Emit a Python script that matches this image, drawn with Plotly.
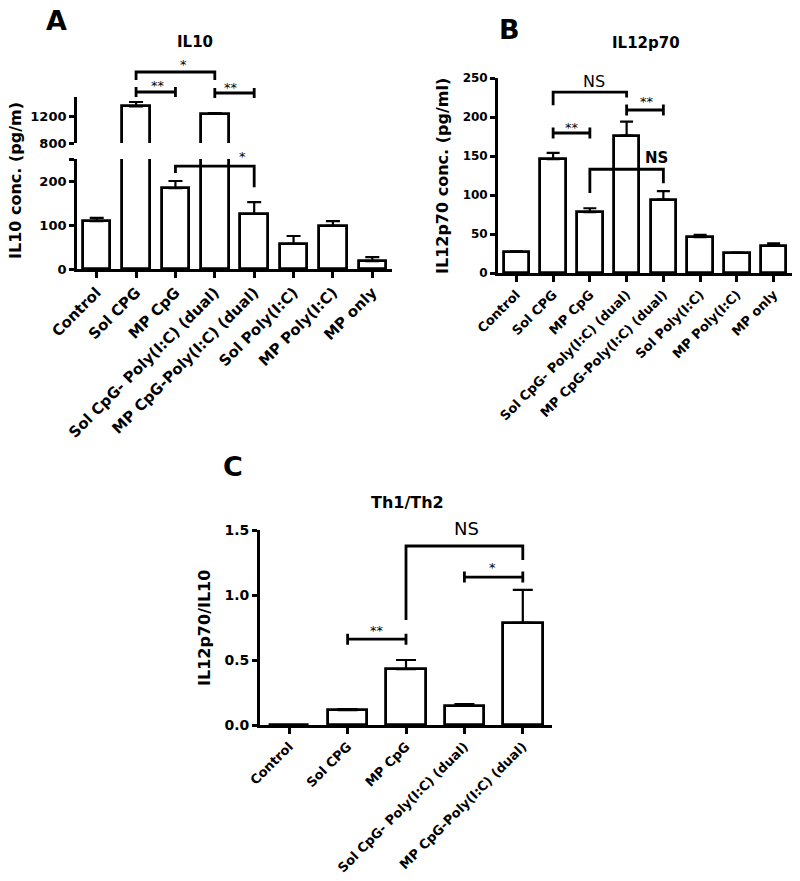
import plotly.graph_objects as go

# ---------------- data ----------------
cats_ab = ["Control", "Sol CPG", "MP CpG", "Sol CpG- Poly(I:C) (dual)",
           "MP CpG-Poly(I:C) (dual)", "Sol Poly(I:C)", "MP Poly(I:C)", "MP only"]
il10 = [109, 1350, 184, 1235, 125, 57, 98, 18]
il10_err = [7, 65, 16, 12, 27, 18, 11, 9]
il12 = [27, 146, 78, 176, 94, 46, 26, 35]
il12_err = [0.6, 8, 5, 18, 11, 3, 0, 3]
cats_c = ["Control", "Sol CPG", "MP CpG", "Sol CpG- Poly(I:C) (dual)", "MP CpG-Poly(I:C) (dual)"]
ratio = [0, 0.115, 0.43, 0.146, 0.785]
ratio_err = [0, 0.008, 0.07, 0.014, 0.255]

W, H = 800, 881
FONT = "DejaVu Sans"
LW = 2.8


def px(p):
    return p / W


def py(p):
    return 1 - p / H


def dom(v, lo, hi):
    return (v - lo) / (hi - lo)


A_LO = (0, 250)
A_HI = (800, 1490)
B_R = (0, 250)
C_R = (0, 1.5)

fig = go.Figure()


def bars(x, y, err, xa, ya, width, capw):
    fig.add_trace(go.Bar(
        x=x, y=y, xaxis=xa, yaxis=ya, width=width,
        marker=dict(color="white", line=dict(color="black", width=LW)),
        error_y=dict(type="data", array=err, arrayminus=[0] * len(err), symmetric=False,
                     color="black", thickness=2.2, width=capw),
        showlegend=False, hoverinfo="skip"))


idx_ab = list(range(len(cats_ab)))
idx_c = list(range(len(cats_c)))
bars(idx_ab, il10, il10_err, "x", "y", 0.7, 7)
bars(idx_ab, il10, il10_err, "x", "y2", 0.7, 7)
bars(idx_ab, il12, il12_err, "x2", "y3", 0.7, 6.5)
bars(idx_c, ratio, ratio_err, "x3", "y4", 0.68, 10)

axcommon = dict(showline=True, linecolor="black", linewidth=LW, ticks="outside",
                tickcolor="black", tickwidth=LW, showgrid=False, zeroline=False,
                fixedrange=True, automargin=False)


def tf(size):
    return dict(family=FONT, size=size, color="black", weight="bold")


fig.update_layout(
    template="none",
    width=W, height=H, margin=dict(l=0, r=0, t=0, b=0, pad=0), autosize=False,
    paper_bgcolor="white", plot_bgcolor="white", bargap=0,
    font=dict(family=FONT, color="black"),
    xaxis=dict(domain=[px(77), px(392)], range=[-0.5, 7.5], anchor="y",
               tickvals=idx_ab, ticktext=cats_ab, tickangle=-45, ticklen=6,
               tickfont=tf(15), **axcommon),
    yaxis=dict(domain=[py(269), py(159)], range=list(A_LO), anchor="x",
               tickvals=[0, 100, 200, 250], ticktext=["0", "100", "200", ""],
               ticklen=5, tickfont=tf(13), **axcommon),
    yaxis2=dict(domain=[py(143), py(97)], range=list(A_HI), anchor="x",
                tickvals=[800, 1200], ticktext=["800", "1200"],
                ticklen=5, tickfont=tf(13), **axcommon),
    xaxis2=dict(domain=[px(498), px(792)], range=[-0.5, 7.5], anchor="y3",
                tickvals=idx_ab, ticktext=cats_ab, tickangle=-45, ticklen=6,
                tickfont=tf(13), **axcommon),
    yaxis3=dict(domain=[py(273), py(78)], range=list(B_R), anchor="x2",
                tickvals=[0, 50, 100, 150, 200, 250], ticklen=5, tickfont=tf(12), **axcommon),
    xaxis3=dict(domain=[px(260), px(552)], range=[-0.5, 4.5], anchor="y4",
                tickvals=idx_c, ticktext=cats_c, tickangle=-45, ticklen=6,
                tickfont=tf(13), **axcommon),
    yaxis4=dict(domain=[py(725), py(530)], range=list(C_R), anchor="x3",
                tickvals=[0, 0.5, 1.0, 1.5], tickformat=".1f", ticklen=5,
                tickfont=tf(14), **axcommon),
)

shapes = []
annots = []


def bracket(xa, ya, rng, x0, x1, y, yl0, yl1):
    f = lambda v: dom(v, *rng)
    path = f"M {x0},{f(yl0)} L {x0},{f(y)} L {x1},{f(y)} L {x1},{f(yl1)}"
    shapes.append(dict(type="path", xref=xa, yref=ya + " domain", path=path,
                       line=dict(color="black", width=LW)))


def hbracket(xa, ya, rng, x0, x1, y, c):
    f = lambda v: dom(v, *rng)
    path = (f"M {x0},{f(y)} L {x1},{f(y)} "
            f"M {x0},{f(y - c)} L {x0},{f(y + c)} M {x1},{f(y - c)} L {x1},{f(y + c)}")
    shapes.append(dict(type="path", xref=xa, yref=ya + " domain", path=path,
                       line=dict(color="black", width=LW)))


def label(xa, ya, rng, x, y, text, size, bold=False):
    annots.append(dict(xref=xa, yref=ya + " domain", x=x, y=dom(y, *rng), text=text,
                       showarrow=False, xanchor="center", yanchor="middle",
                       font=dict(family=FONT, size=size, color="black",
                                 weight="bold" if bold else "normal")))


# Panel A significance
bracket("x", "y2", A_HI, 1, 3, 1865, 1745, 1745)
label("x", "y2", A_HI, 2.2, 1985, "*", 13)
hbracket("x", "y2", A_HI, 1, 2, 1565, 75)
label("x", "y2", A_HI, 1.55, 1670, "**", 13)
hbracket("x", "y2", A_HI, 3, 4, 1550, 75)
label("x", "y2", A_HI, 3.4, 1640, "**", 13)
bracket("x", "y", A_LO, 2, 4, 234, 218, 186)
label("x", "y", A_LO, 3.7, 255, "*", 13)

# Panel B significance
bracket("x2", "y3", B_R, 1, 3, 232, 215, 225)
label("x2", "y3", B_R, 2.1, 246, "NS", 16)
hbracket("x2", "y3", B_R, 1, 2, 179.5, 7)
label("x2", "y3", B_R, 1.5, 187, "**", 13)
hbracket("x2", "y3", B_R, 3, 4, 209, 7)
label("x2", "y3", B_R, 3.55, 220.5, "**", 13)
bracket("x2", "y3", B_R, 2, 4, 133, 102.6, 115)
label("x2", "y3", B_R, 3.8, 147, "NS", 15, bold=True)

# Panel C significance
bracket("x3", "y4", C_R, 2, 4, 1.377, 0.808, 1.27)
label("x3", "y4", C_R, 3.03, 1.515, "NS", 18)
hbracket("x3", "y4", C_R, 1, 2, 0.66, 0.042)
label("x3", "y4", C_R, 1.5, 0.73, "**", 13)
hbracket("x3", "y4", C_R, 3, 4, 1.138, 0.042)
label("x3", "y4", C_R, 3.48, 1.215, "*", 13)


def ptext(x, y, text, size, angle=0):
    annots.append(dict(xref="paper", yref="paper", x=px(x), y=py(y), text=text,
                       showarrow=False, xanchor="center", yanchor="middle", textangle=angle,
                       font=dict(family=FONT, size=size, color="black", weight="bold")))


ptext(57, 20, "A", 27)
ptext(510, 29, "B", 27)
ptext(233, 466, "C", 27)
ptext(195, 42, "IL10", 15)
ptext(646, 43, "IL12p70", 15)
ptext(407, 502, "Th1/Th2", 16)
ptext(15, 181, "IL10 conc. (pg/m)", 16, -90)
ptext(442, 176, "IL12p70 conc. (pg/ml)", 16, -90)
ptext(204, 628, "IL12p70/IL10", 16, -90)

fig.update_layout(shapes=shapes, annotations=annots)

fig.write_html("out.html", post_script="document.body.style.margin='0';",
               config={"displayModeBar": False})
